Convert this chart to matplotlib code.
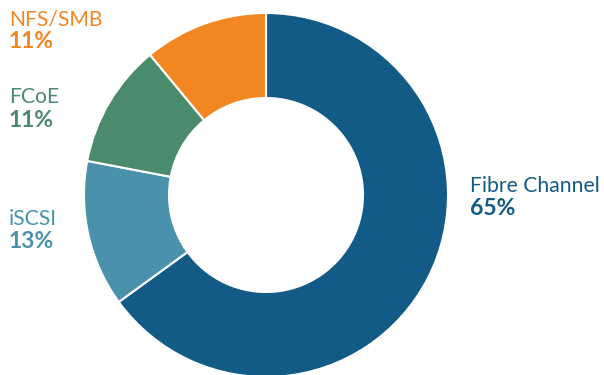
import matplotlib
matplotlib.use("Agg")
import matplotlib.pyplot as plt

# 存储协议占比
protocols = ["Fibre Channel", "iSCSI", "FCoE", "NFS/SMB"]
shares = [65, 13, 11, 11]
colors = ["#135b87", "#4a92ab", "#4a8b6b", "#f28621"]

# 文字位置（像素，左上为原点）：左边x, 名称基线, 百分比基线
label_pos = {
    "Fibre Channel": (470, 192, 215),
    "iSCSI": (9, 225, 248),
    "FCoE": (9, 103, 127),
    "NFS/SMB": (9, 25, 48),
}

W, H = 604, 375
fig = plt.figure(figsize=(W / 100, H / 100), dpi=100)
ax = fig.add_axes([0, 0, 1, 1])

ax.pie(shares, colors=colors, startangle=90, counterclock=False,
       center=(266, H - 195), radius=182,
       wedgeprops=dict(width=85, edgecolor="white", linewidth=1.5))

font = "Lato"
for name, pct, c in zip(protocols, shares, colors):
    x, y1, y2 = label_pos[name]
    ax.text(x, H - y1, name, color=c, fontsize=15.2, family=font, va="baseline")
    ax.text(x, H - y2, f"{pct}%", color=c, fontsize=16.5, family=font,
            fontweight="bold", va="baseline")

ax.set_xlim(0, W)
ax.set_ylim(0, H)
ax.set_aspect("equal")
ax.axis("off")

fig.savefig("out.png", dpi=100)
